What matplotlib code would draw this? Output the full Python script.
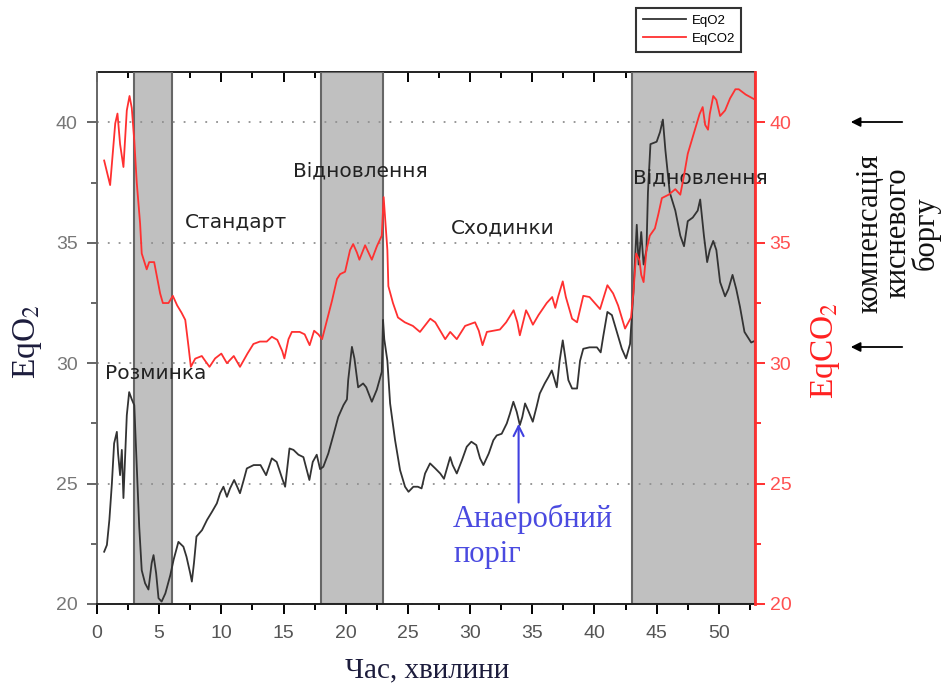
import matplotlib
matplotlib.use("Agg")
import matplotlib.pyplot as plt
from matplotlib.ticker import MultipleLocator

plt.rcParams['mathtext.fontset'] = 'stix'

# time, minutes (EqO2 samples)
t_o2 = [0.58, 0.8, 1.0, 1.2, 1.38, 1.6, 1.7, 1.86, 2.0, 2.13,
        2.27, 2.4, 2.59, 2.8, 3.0, 3.2, 3.4, 3.6, 3.87, 4.14,
        4.4, 4.55, 4.76, 4.95, 5.2, 5.5, 5.9, 6.16, 6.55, 6.95,
        7.2, 7.5, 7.63, 7.8, 8.0, 8.45, 8.85, 9.25, 9.64, 9.9,
        10.17, 10.45, 10.7, 11.03, 11.25, 11.5, 11.8, 12.05, 12.6, 13.15,
        13.6, 14.06, 14.45, 14.9, 15.13, 15.48, 15.8, 16.2, 16.6, 16.85,
        17.08, 17.35, 17.67, 17.94, 18.2, 18.6, 19.0, 19.4, 19.82, 20.1,
        20.2, 20.5, 20.7, 21.0, 21.4, 21.65, 22.1, 22.5, 22.9, 23.0,
        23.1, 23.35, 23.57, 23.97, 24.37, 24.77, 25.05, 25.44, 25.8, 26.1,
        26.38, 26.78, 27.2, 27.6, 27.9, 28.1, 28.4, 28.6, 28.93, 29.35,
        29.73, 30.1, 30.5, 30.8, 31.07, 31.5, 31.87, 32.14, 32.54, 32.95,
        33.2, 33.48, 33.75, 34.0, 34.2, 34.42, 34.7, 35.04, 35.35, 35.6,
        36.0, 36.3, 36.57, 36.97, 37.2, 37.45, 37.65, 37.9, 38.2, 38.6,
        38.84, 39.1, 39.6, 40.2, 40.5, 40.7, 41.04, 41.4, 41.8, 42.2,
        42.54, 42.86, 43.13, 43.4, 43.55, 43.76, 43.95, 44.18, 44.3, 44.5,
        45.0, 45.27, 45.5, 45.7, 46.05, 46.5, 46.9, 47.2, 47.5, 47.9,
        48.3, 48.5, 48.8, 49.06, 49.27, 49.55, 49.8, 50.1, 50.5, 50.77,
        51.1, 51.4, 51.7, 52.06, 52.6, 52.9]
eq_o2 = [22.17, 22.45, 23.5, 25.0, 26.67, 27.15, 26.25, 25.35, 26.4, 24.4,
         26.2, 27.84, 28.8, 28.5, 28.26, 25.7, 23.2, 21.4, 20.86, 20.6,
         21.7, 22.03, 21.27, 20.24, 20.1, 20.44, 21.2, 21.83, 22.58, 22.38,
         21.96, 21.27, 20.93, 21.7, 22.8, 23.07, 23.49, 23.83, 24.18, 24.6,
         24.87, 24.45, 24.8, 25.15, 24.9, 24.6, 25.15, 25.63, 25.77, 25.77,
         25.35, 26.05, 25.9, 25.2, 24.87, 26.46, 26.4, 26.2, 26.1, 25.6,
         25.15, 25.9, 26.2, 25.6, 25.7, 26.25, 27.0, 27.77, 28.26, 28.5,
         29.3, 30.68, 30.2, 29.0, 29.16, 29.0, 28.4, 28.9, 29.64, 31.8,
         31.0, 30.1, 28.33, 26.8, 25.56, 24.87, 24.66, 24.87, 24.87, 24.8,
         25.42, 25.84, 25.63, 25.42, 25.2, 25.56, 26.1, 25.77, 25.42, 25.98,
         26.53, 26.74, 26.6, 26.05, 25.77, 26.25, 26.8, 27.0, 27.07, 27.5,
         27.9, 28.4, 27.98, 27.43, 27.77, 28.33, 28.0, 27.57, 28.2, 28.74,
         29.16, 29.43, 29.7, 29.0, 30.1, 30.95, 30.25, 29.3, 28.95, 28.95,
         30.1, 30.6, 30.66, 30.66, 30.45, 31.1, 32.13, 32.0, 31.3, 30.6,
         30.2, 30.8, 32.93, 35.75, 34.1, 35.45, 34.1, 34.7, 37.1, 39.1,
         39.2, 39.6, 40.12, 38.86, 37.1, 36.34, 35.3, 34.86, 35.9, 36.05,
         36.34, 36.8, 35.3, 34.2, 34.7, 35.08, 34.7, 33.37, 32.78, 33.08,
         33.67, 33.08, 32.34, 31.3, 30.86, 30.93]

# time, minutes (EqCO2 samples)
t_co2 = [0.58, 1.06, 1.47, 1.65, 1.86, 2.13, 2.4, 2.62, 2.8, 3.0,
         3.2, 3.47, 3.6, 4.0, 4.2, 4.6, 5.08, 5.3, 5.75, 6.1,
         6.45, 6.8, 7.1, 7.36, 7.55, 7.9, 8.43, 8.7, 9.05, 9.5,
         10.0, 10.45, 11.0, 11.5, 12.1, 12.58, 13.1, 13.65, 14.06, 14.5,
         14.9, 15.07, 15.4, 15.67, 16.3, 16.7, 17.1, 17.46, 17.8, 18.1,
         18.5, 18.9, 19.3, 19.55, 19.95, 20.35, 20.6, 20.9, 21.1, 21.56,
         22.1, 22.5, 22.9, 23.05, 23.35, 23.43, 23.8, 24.2, 24.75, 25.4,
         25.97, 26.8, 27.2, 28.0, 28.4, 28.93, 29.6, 30.4, 30.7, 31.0,
         31.35, 31.9, 32.4, 32.9, 33.5, 33.8, 34.0, 34.5, 34.7, 35.05,
         35.5, 36.16, 36.6, 36.85, 37.1, 37.45, 37.7, 38.2, 38.6, 39.1,
         39.6, 40.45, 41.04, 41.5, 41.9, 42.46, 42.94, 43.13, 43.35, 43.62,
         43.76, 43.95, 44.18, 44.45, 44.86, 45.14, 45.42, 45.96, 46.5, 46.9,
         47.2, 47.5, 47.9, 48.45, 48.7, 48.9, 49.13, 49.27, 49.55, 49.8,
         50.1, 50.5, 50.9, 51.33, 51.6, 52.16, 52.9]
eq_co2 = [38.42, 37.4, 39.96, 40.37, 39.1, 38.15, 40.5, 41.1, 40.6, 39.25,
          37.5, 35.8, 34.56, 33.9, 34.2, 34.2, 32.9, 32.5, 32.5, 32.8,
          32.4, 32.1, 31.8, 30.7, 29.85, 30.19, 30.3, 30.1, 29.85, 30.2,
          30.4, 30.0, 30.3, 29.85, 30.4, 30.8, 30.9, 30.9, 31.1, 30.97,
          30.5, 30.2, 31.0, 31.3, 31.3, 31.2, 30.75, 31.35, 31.2, 31.0,
          31.8, 32.6, 33.5, 33.7, 33.8, 34.7, 34.95, 34.6, 34.3, 34.9,
          34.3, 34.85, 35.3, 36.9, 34.7, 33.2, 32.5, 31.9, 31.7, 31.55,
          31.3, 31.85, 31.7, 31.0, 31.3, 31.0, 31.55, 31.7, 31.35, 30.75,
          31.3, 31.35, 31.4, 31.7, 32.2, 31.7, 31.16, 32.2, 32.0, 31.6,
          32.0, 32.5, 32.75, 32.3, 32.8, 33.4, 32.75, 31.85, 31.7, 32.8,
          32.75, 32.25, 33.24, 32.9, 32.4, 31.44, 31.9, 32.93, 34.56, 34.27,
          33.67, 33.37, 34.7, 35.3, 35.6, 36.2, 36.86, 37.0, 37.23, 37.0,
          37.8, 38.7, 39.4, 40.35, 40.64, 39.9, 39.7, 40.35, 41.1, 40.94,
          40.27, 40.5, 41.0, 41.38, 41.38, 41.16, 40.95]

# shaded phases (start, end) in minutes
rest_phases = [(3, 6), (18, 23), (43, 52.9)]

# phase labels: text, x, y, alignment
phase_labels = [("Розминка", 0.66, 29.58, "left"),
                ("Стандарт", 11.2, 35.85, "center"),
                ("Відновлення", 21.2, 38.0, "center"),
                ("Сходинки", 32.65, 35.6, "center"),
                ("Відновлення", 48.5, 37.7, "center")]

threshold_t = 33.9
threshold_y = 27.6

fig = plt.figure(figsize=(9.44, 6.83), dpi=100)
ax = fig.add_axes([0.1027, 0.1157, 0.697, 0.779])
ax2 = ax.twinx()

for a, b in rest_phases:
    ax.axvspan(a, b, facecolor="#c0c0c0", edgecolor="#666666", lw=1.5, zorder=1)

ax.set_axisbelow("line")
ax.grid(axis="y", color="#909090", linestyle=(0, (1, 5)), lw=1.3)

l1, = ax.plot(t_o2, eq_o2, color="#333333", lw=1.3, zorder=3, label="EqO2")
l2, = ax2.plot(t_co2, eq_co2, color="#ff3030", lw=1.3, label="EqCO2")

ax.set_xlim(0, 52.9)
ax.set_ylim(20, 42.1)
ax2.set_ylim(20, 42.1)

ax.xaxis.set_major_locator(MultipleLocator(5))
ax.xaxis.set_minor_locator(MultipleLocator(2.5))
ax.yaxis.set_major_locator(MultipleLocator(5))
ax.yaxis.set_minor_locator(MultipleLocator(2.5))
ax2.yaxis.set_major_locator(MultipleLocator(5))
ax2.yaxis.set_minor_locator(MultipleLocator(2.5))

tickfont = "Liberation Sans"
ax.tick_params(axis="x", which="both", direction="out", labelsize=14,
               labelcolor="#555555", width=1.4, pad=8)
ax.tick_params(axis="x", which="major", length=7)
ax.tick_params(axis="x", which="minor", length=4)
ax.tick_params(axis="y", which="both", direction="out", labelsize=14,
               labelcolor="#777777", color="#666666", width=1.4, pad=7)
ax.tick_params(axis="y", which="major", length=7)
ax.tick_params(axis="y", which="minor", length=4)
ax2.tick_params(axis="y", which="both", direction="out", labelsize=14,
                labelcolor="#ff5050", color="#ff3030", width=1.4)
ax2.tick_params(axis="y", which="major", length=7)
ax2.tick_params(axis="y", which="minor", length=4)
for lab in ax.get_xticklabels() + ax.get_yticklabels() + ax2.get_yticklabels():
    lab.set_fontfamily(tickfont)

# top axis: ticks pointing inward, no labels
top = ax.secondary_xaxis("top")
top.xaxis.set_major_locator(MultipleLocator(5))
top.xaxis.set_minor_locator(MultipleLocator(2.5))
top.tick_params(which="both", direction="in", labeltop=False, width=1.4)
top.tick_params(which="major", length=7)
top.tick_params(which="minor", length=4)
top.spines["top"].set_color("#222222")
top.spines["top"].set_linewidth(1.4)

ax.spines["bottom"].set_color("#222222")
ax.spines["bottom"].set_linewidth(1.4)
ax.spines["top"].set_visible(False)
ax.spines["left"].set_color("#666666")
ax.spines["left"].set_linewidth(1.4)
ax2.spines["right"].set_color("#ff3030")
ax2.spines["right"].set_linewidth(2)
ax2.spines["left"].set_visible(False)
ax2.spines["top"].set_visible(False)
ax2.spines["bottom"].set_visible(False)

for txt, x, y, ha in phase_labels:
    ax.text(x, y, txt, ha=ha, va="center", fontsize=14.5, color="#222222",
            family="DejaVu Sans", zorder=5)

ax.annotate("", xy=(threshold_t, threshold_y), xytext=(threshold_t, 24.1),
            arrowprops=dict(arrowstyle="->", color="#4040e0", lw=1.5,
                            mutation_scale=18), zorder=6)
ax.text(28.63, 23.2, "Анаеробний", ha="left", va="baseline", fontsize=22,
        color="#4a4ae0", family="Liberation Serif")
ax.text(28.63, 21.74, "поріг", ha="left", va="baseline", fontsize=22,
        color="#4a4ae0", family="Liberation Serif")

fig.text(27 / 944, 1 - 342 / 683, "EqO$_2$", rotation=90, ha="center", va="center",
         fontsize=24, color="#1c1c3c", family="Liberation Serif")
fig.text(826 / 944, 1 - 350 / 683, "EqCO$_2$", rotation=90, ha="center", va="center",
         fontsize=24, color="#ff2020", family="Liberation Serif")
fig.text(427 / 944, 1 - 670 / 683, "Час, хвилини", ha="center", va="center",
         fontsize=21, color="#1c1c3c", family="Liberation Serif")

fig.text(898 / 944, 1 - 233 / 683, "компенсація\nкисневого\nборгу", rotation=90,
         ha="center", va="center", fontsize=22, linespacing=0.92,
         color="#111111", family="Liberation Serif")
for yy in [122, 347]:
    ax.annotate("", xy=(848 / 944, 1 - yy / 683), xytext=(905 / 944, 1 - yy / 683),
                xycoords="figure fraction", textcoords="figure fraction",
                arrowprops=dict(arrowstyle="-|>", color="black", lw=1.3,
                                mutation_scale=14), annotation_clip=False)

leg = fig.legend([l1, l2], ["EqO2", "EqCO2"], loc="upper left",
                 bbox_to_anchor=(636 / 944, 1 - 8 / 683), borderaxespad=0,
                 frameon=True, fancybox=False, handlelength=3.3,
                 borderpad=0.5, labelspacing=0.45, handletextpad=0.4,
                 prop={"family": "Liberation Sans", "size": 9.5})
leg.get_frame().set_edgecolor("black")
leg.get_frame().set_linewidth(1.5)

fig.savefig("out.png", dpi=100)
